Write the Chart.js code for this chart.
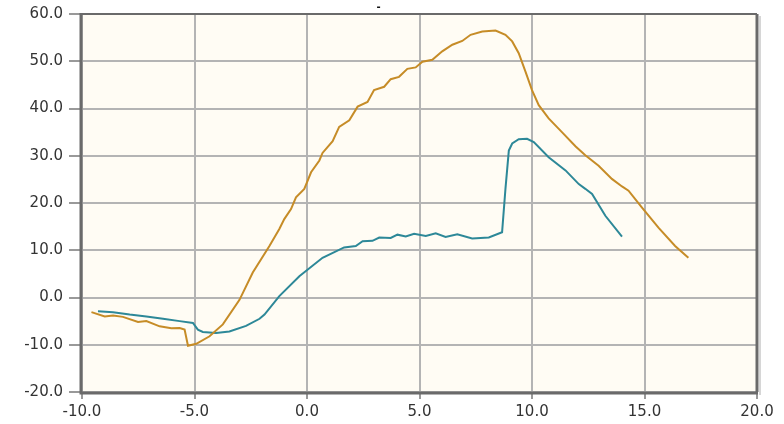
<!DOCTYPE html>
<html>
<head>
<meta charset="utf-8">
<script src="https://cdn.jsdelivr.net/npm/chart.js@4/dist/chart.umd.min.js"></script>
<style>
  html, body { margin: 0; padding: 0; background: #ffffff; }
  #wrap { width: 784px; height: 424px; }
</style>
</head>
<body>
<div id="wrap"><canvas id="c" width="784" height="424"></canvas></div>
<script>
// Gold curve
const goldX = [-9.58, -8.99, -8.62, -8.18, -7.51, -7.14, -6.55, -6.03, -5.66, -5.44, -5.29, -4.92, -4.33, -3.74, -3.0,
  -2.41, -1.67, -1.23, -1.01, -0.71, -0.49, -0.12, 0.18, 0.55, 0.69, 1.14, 1.43, 1.88, 2.25, 2.69, 2.98, 3.43, 3.72,
  4.09, 4.46, 4.83, 5.13, 5.57, 6.01, 6.46, 6.9, 7.27, 7.79, 8.38, 8.82, 9.12, 9.41, 9.71, 10.0, 10.3, 10.74, 11.33,
  11.93, 12.37, 12.96, 13.55, 14.0, 14.29, 14.88, 15.62, 16.36, 16.95];
const goldY = [-3.1, -4.0, -3.8, -4.1, -5.2, -5.0, -6.1, -6.5, -6.45, -6.8, -10.2, -9.8, -8.2, -5.7, -0.5,
  5.3, 10.9, 14.5, 16.6, 18.7, 21.2, 23.0, 26.5, 29.0, 30.6, 33.1, 36.1, 37.5, 40.4, 41.4, 43.9, 44.6, 46.2,
  46.7, 48.4, 48.7, 49.9, 50.3, 52.1, 53.5, 54.3, 55.6, 56.3, 56.5, 55.6, 54.2, 51.7, 47.8, 43.9, 40.7, 37.9, 35.0,
  32.0, 30.1, 27.9, 25.1, 23.5, 22.6, 19.1, 14.8, 10.9, 8.4];

// Teal curve
const tealX = [-9.29, -8.62, -7.88, -7.14, -6.4, -5.66, -5.07, -4.85, -4.63, -4.04, -3.45, -2.71, -2.11, -1.89,
  -1.23, -0.34, 0.69, 1.65, 2.17, 2.47, 2.91, 3.21, 3.72, 4.02, 4.39, 4.76, 5.28, 5.72, 6.16, 6.68, 7.34, 8.08,
  8.67, 8.82, 8.97, 9.12, 9.41, 9.78, 10.08, 10.74, 11.49, 12.08, 12.37, 12.67, 13.26, 14.0];
const tealY = [-2.9, -3.1, -3.6, -4.0, -4.5, -5.0, -5.4, -6.8, -7.3, -7.5, -7.2, -6.0, -4.5, -3.6,
  0.3, 4.5, 8.4, 10.6, 10.9, 11.9, 12.0, 12.7, 12.6, 13.3, 12.9, 13.5, 13.0, 13.6, 12.8, 13.4, 12.5, 12.7,
  13.8, 23.0, 31.1, 32.6, 33.5, 33.6, 32.9, 29.7, 26.9, 24.0, 23.0, 21.9, 17.3, 12.9];

const xTicks = [-10, -5, 0, 5, 10, 15, 20];
const yTicks = [-20, -10, 0, 10, 20, 30, 40, 50, 60];
const titleText = '-';

const toPoints = (xs, ys) => xs.map((x, i) => ({ x: x, y: ys[i] }));

// Cream plot background, grid and tick marks under the curves; dark frame on top.
const framePlugin = {
  id: 'frame',
  beforeDatasetsDraw(chart) {
    const { ctx, chartArea: a } = chart;
    const x = chart.scales.x, y = chart.scales.y;
    ctx.save();
    ctx.fillStyle = '#fffcf4';
    ctx.fillRect(a.left, a.top, a.right - a.left, a.bottom - a.top);
    ctx.lineWidth = 2;
    ctx.strokeStyle = '#b4b4b4';
    xTicks.forEach(v => {
      const px = Math.round(x.getPixelForValue(v));
      ctx.beginPath(); ctx.moveTo(px, a.top); ctx.lineTo(px, a.bottom); ctx.stroke();
    });
    yTicks.forEach(v => {
      const py = Math.round(y.getPixelForValue(v));
      ctx.beginPath(); ctx.moveTo(a.left, py); ctx.lineTo(a.right, py); ctx.stroke();
    });
    ctx.strokeStyle = '#999999';
    xTicks.forEach(v => {
      const px = Math.round(x.getPixelForValue(v));
      ctx.beginPath(); ctx.moveTo(px, a.bottom); ctx.lineTo(px, a.bottom + 7); ctx.stroke();
    });
    yTicks.forEach(v => {
      const py = Math.round(y.getPixelForValue(v));
      ctx.beginPath(); ctx.moveTo(a.left - 13, py); ctx.lineTo(a.left, py); ctx.stroke();
    });
    ctx.restore();
  },
  afterDraw(chart) {
    const { ctx, chartArea: a } = chart;
    ctx.save();
    ctx.strokeStyle = '#d6d6d6';
    ctx.lineWidth = 2;
    ctx.beginPath();
    ctx.moveTo(a.right + 3, a.top + 2);
    ctx.lineTo(a.right + 3, a.bottom + 3);
    ctx.stroke();
    ctx.strokeStyle = '#6a6a6a';
    ctx.lineWidth = 2;
    ctx.beginPath();
    ctx.moveTo(a.left, a.top);
    ctx.lineTo(a.right, a.top);
    ctx.stroke();
    ctx.lineWidth = 3;
    ctx.beginPath();
    ctx.moveTo(a.right, a.top);
    ctx.lineTo(a.right, a.bottom);
    ctx.moveTo(a.left - 1, a.top - 1);
    ctx.lineTo(a.left - 1, a.bottom + 1);
    ctx.lineTo(a.right + 1, a.bottom + 1);
    ctx.stroke();
    ctx.restore();
  }
};

Chart.defaults.font.family = '"DejaVu Sans", Verdana, sans-serif';
Chart.defaults.font.size = 15;
Chart.defaults.color = '#333333';

new Chart(document.getElementById('c'), {
  type: 'scatter',
  data: {
    datasets: [
      {
        label: 'gold',
        data: toPoints(goldX, goldY),
        showLine: true,
        borderColor: '#c68c27',
        borderWidth: 2,
        pointRadius: 0,
        tension: 0
      },
      {
        label: 'teal',
        data: toPoints(tealX, tealY),
        showLine: true,
        borderColor: '#2d8898',
        borderWidth: 2,
        pointRadius: 0,
        tension: 0
      }
    ]
  },
  options: {
    responsive: false,
    animation: false,
    layout: { padding: { left: 0, right: 27, top: 0, bottom: 0 } },
    plugins: {
      legend: { display: false },
      tooltip: { enabled: false },
      title: {
        display: true,
        text: titleText,
        color: '#111',
        font: { size: 10, weight: 'bold', lineHeight: 1 },
        padding: { top: 2, bottom: 2 }
      }
    },
    scales: {
      x: {
        type: 'linear',
        min: -10,
        max: 20,
        afterBuildTicks: s => { s.ticks = xTicks.map(v => ({ value: v })); },
        afterFit: s => { s.height = 32; s.paddingLeft = 0; s.paddingRight = 0; },
        ticks: { callback: v => Number(v).toFixed(1), padding: 11, maxRotation: 0, autoSkip: false },
        grid: { display: false, drawTicks: false, tickLength: 0 },
        border: { display: false }
      },
      y: {
        type: 'linear',
        min: -20,
        max: 60,
        afterBuildTicks: s => { s.ticks = yTicks.map(v => ({ value: v })); },
        afterFit: s => { s.width = 82; s.paddingTop = 0; s.paddingBottom = 0; },
        ticks: { callback: v => Number(v).toFixed(1), padding: 19, autoSkip: false },
        grid: { display: false, drawTicks: false, tickLength: 0 },
        border: { display: false }
      }
    }
  },
  plugins: [framePlugin]
});
</script>
</body>
</html>
